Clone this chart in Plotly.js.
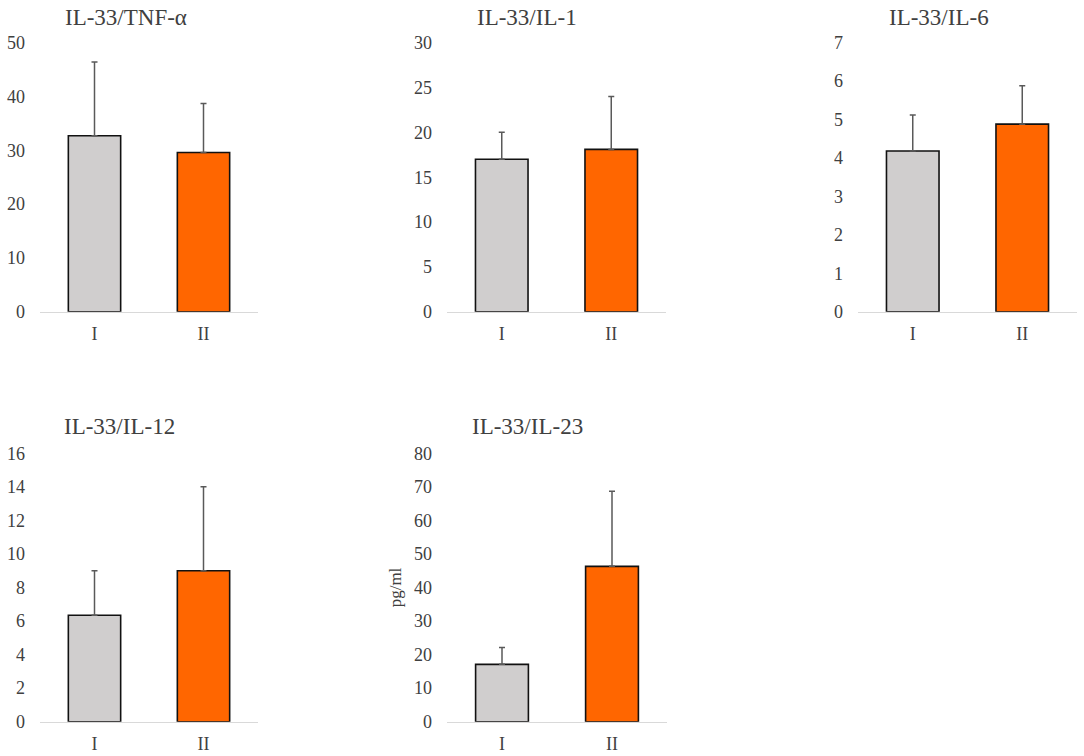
<!DOCTYPE html>
<html>
<head>
<meta charset="utf-8">
<script src="https://cdn.plot.ly/plotly-3.0.1.min.js"></script>
<style>
  body { margin: 0; background: #fff; }
  #myDiv { width: 1084px; height: 756px; }
</style>
</head>
<body>
<div id="myDiv"></div>
<script>
// Groups and values (mean + upper SD)
var groups = ['I', 'II'];
var panelTitles = ['IL-33/TNF-α', 'IL-33/IL-1', 'IL-33/IL-6', 'IL-33/IL-12', 'IL-33/IL-23'];

var tnfMean = [32.7, 29.6];
var tnfSd   = [13.7, 9.1];
var il1Mean = [17.0, 18.1];
var il1Sd   = [3.0, 5.9];
var il6Mean = [4.18, 4.88];
var il6Sd   = [0.94, 1.0];
var il12Mean = [6.35, 9.0];
var il12Sd   = [2.65, 5.0];
var il23Mean = [17.1, 46.3];
var il23Sd   = [5.0, 22.4];

var yMax  = [50, 30, 7, 16, 80];
var yStep = [10, 5, 1, 2, 10];

var means = [tnfMean, il1Mean, il6Mean, il12Mean, il23Mean];
var sds   = [tnfSd, il1Sd, il6Sd, il12Sd, il23Sd];

var W = 1084, H = 756;
// plot boxes in pixels: [left, right, top, bottom]
var boxes = [
  [40, 258, 42.7, 311.7],
  [447, 666, 42.7, 311.7],
  [858, 1077, 42.7, 311.7],
  [40, 258, 453.3, 721.7],
  [447, 667, 453.3, 721.7]
];
var titleLeft = [[63, 17.5], [475, 17.5], [887, 17.5], [62, 427], [470, 427]];

var font = '"Liberation Serif", "Times New Roman", serif';
var data = [];
var layout = {
  width: W, height: H,
  margin: {l: 0, r: 0, t: 0, b: 0},
  paper_bgcolor: '#fff',
  plot_bgcolor: '#fff',
  showlegend: false,
  font: {family: font, color: '#404040'},
  annotations: []
};

for (var i = 0; i < 5; i++) {
  var n = i === 0 ? '' : String(i + 1);
  data.push({
    type: 'bar',
    x: groups,
    y: means[i],
    xaxis: 'x' + n,
    yaxis: 'y' + n,
    width: 0.48,
    marker: {color: ['#D0CECE', '#FF6600'], line: {color: '#111', width: 1.6}},
    error_y: {
      type: 'data', array: sds[i], symmetric: false, arrayminus: [0, 0],
      color: '#595959', thickness: 1.5, width: 3
    },
    hoverinfo: 'skip'
  });

  var b = boxes[i];
  layout['xaxis' + n] = {
    domain: [b[0] / W, b[1] / W],
    anchor: 'y' + n,
    type: 'category',
    range: [-0.5, 1.5],
    showline: true, linecolor: '#D9D9D9', linewidth: 1.5,
    showgrid: false, zeroline: false, ticks: '', ticklabelstandoff: 5,
    tickfont: {size: 18, color: '#404040', family: font},
    fixedrange: true
  };
  layout['yaxis' + n] = {
    domain: [1 - b[3] / H, 1 - b[2] / H],
    anchor: 'x' + n,
    range: [0, yMax[i]],
    dtick: yStep[i], tick0: 0,
    showline: false, showgrid: false, zeroline: false,
    ticks: '', ticklabelstandoff: 14,
    tickfont: {size: 18, color: '#404040', family: font},
    fixedrange: true
  };

  layout.annotations.push({
    text: panelTitles[i],
    xref: 'paper', yref: 'paper',
    x: titleLeft[i][0] / W, y: 1 - titleLeft[i][1] / H,
    xanchor: 'left', yanchor: 'middle',
    showarrow: false,
    font: {size: 23, color: '#404040', family: font}
  });
}

// y-axis unit on the last panel
layout.yaxis5.title = {text: 'pg/ml', font: {size: 17, color: '#404040', family: font}, standoff: 8};

Plotly.newPlot('myDiv', data, layout, {displayModeBar: false, staticPlot: true});
</script>
</body>
</html>
